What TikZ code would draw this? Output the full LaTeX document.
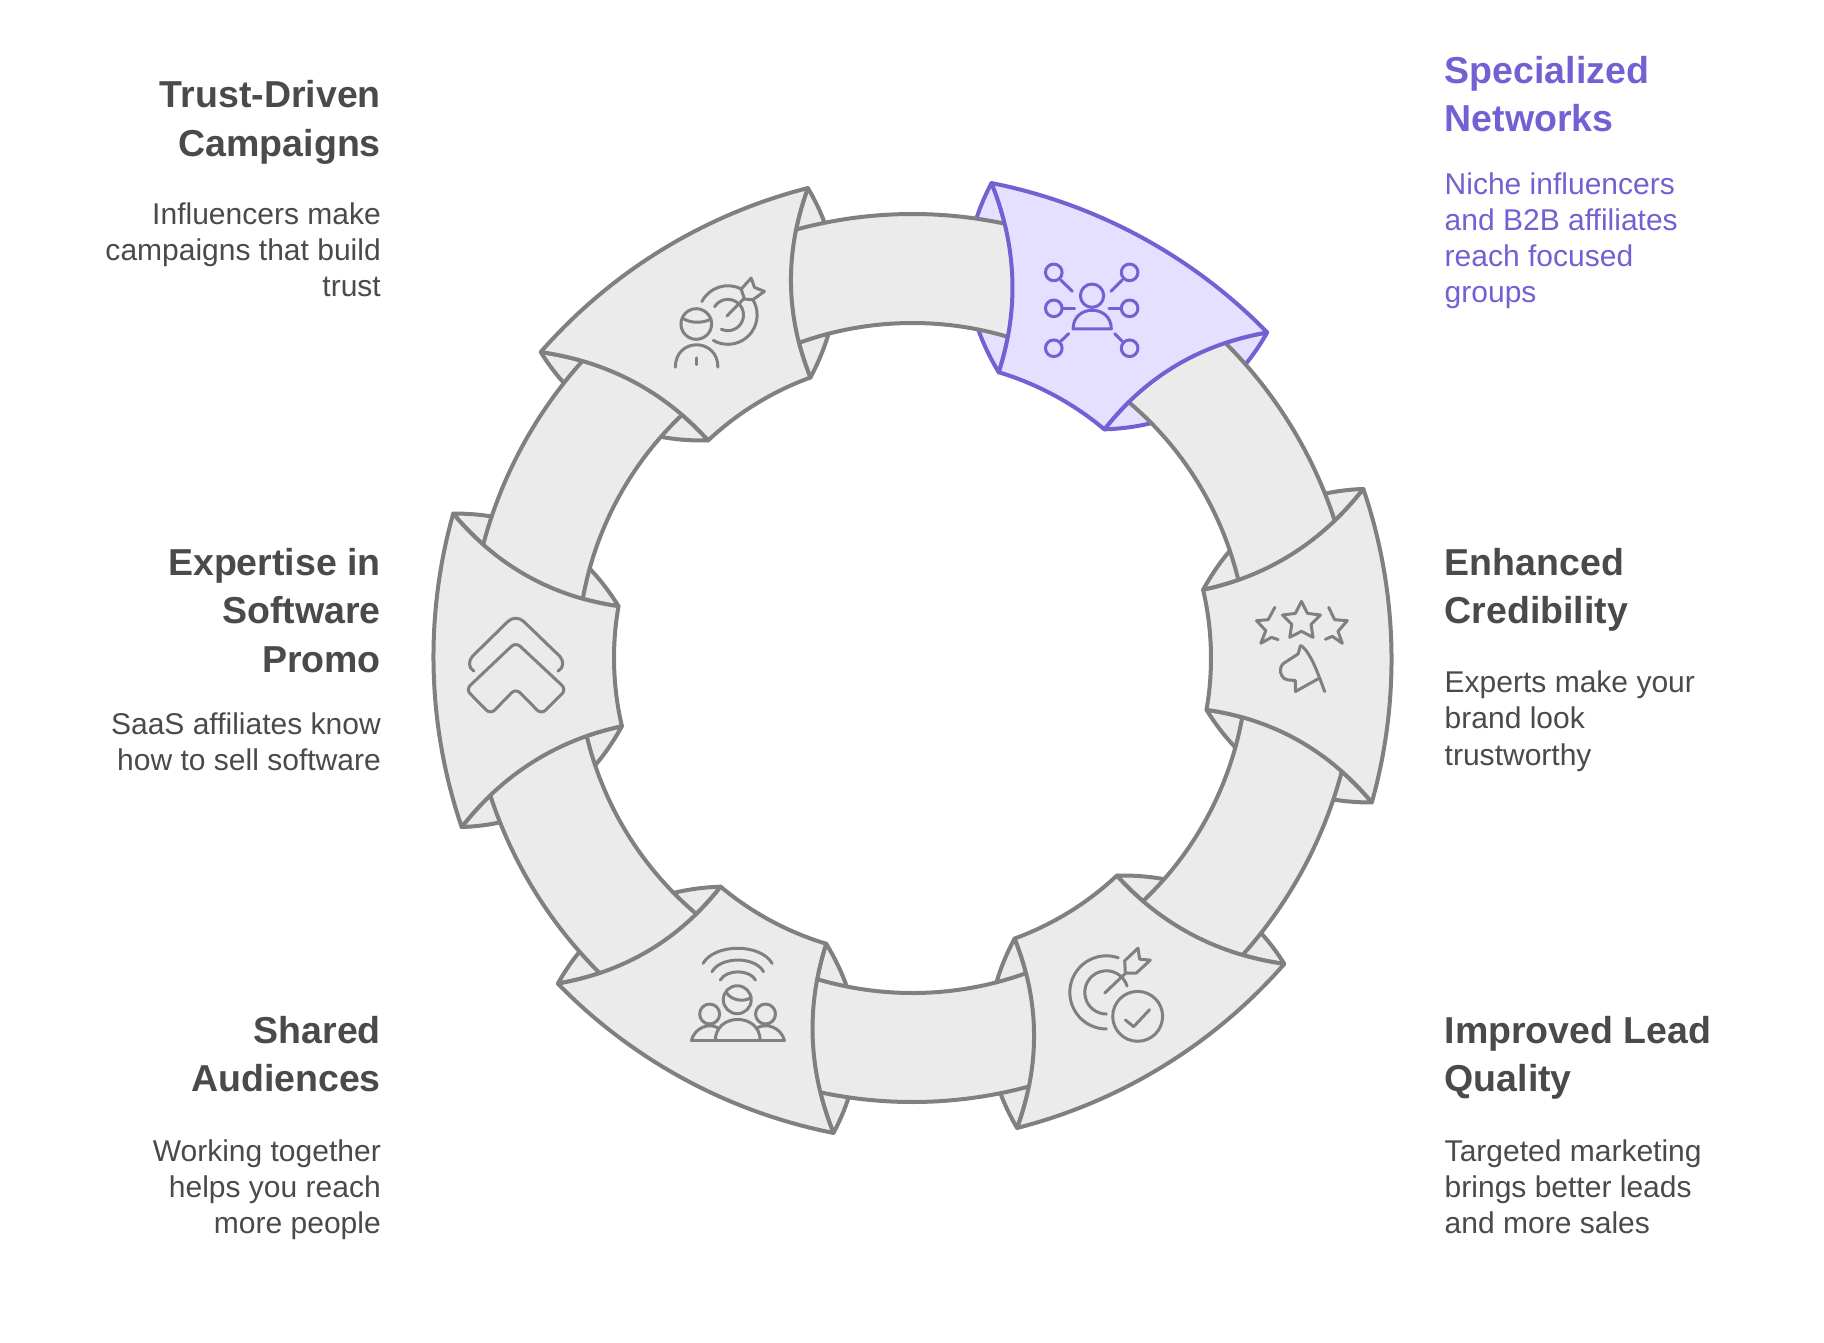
\documentclass[tikz,border=0pt]{standalone}
\usepackage{fontspec}
\setmainfont{Liberation Sans}

\definecolor{secfill}{HTML}{EBEBEB}
\definecolor{secline}{HTML}{808080}
\definecolor{specfill}{HTML}{E5E0FF}
\definecolor{specline}{HTML}{7261D3}
\definecolor{darktext}{HTML}{4A4A4A}

\tikzset{
    titlefont/.style={font=\fontsize{10.67}{13.75}\selectfont\bfseries\strut, inner sep=0pt},
    bodyfont/.style={font=\fontsize{8.54}{10.33}\selectfont\strut, inner sep=0pt},
    leftside/.style={anchor=north east, align=right, darktext},
    rightside/.style={anchor=north west, align=left, darktext},
    iconscale/.style={x=0.003333cm, y=-0.003333cm, line width=0.03cm, line cap=round, line join=round}
}

\begin{document}
\begin{tikzpicture}
    \useasboundingbox (0,0) rectangle (18.24,-13.42);

    % ================= RING =================
    \begin{scope}[shift={(9.125,-6.58)}, line width=0.04cm, line join=round]
        % 1. Back flaps of every section
        \foreach \ang/\fc/\lc in {0/specfill/specline, -60/secfill/secline, -120/secfill/secline, 180/secfill/secline, 120/secfill/secline, 60/secfill/secline} {
            \begin{scope}[rotate=\ang]
                \coordinate (outa) at (80.55:4.815);
                \coordinate (outb) at (42.55:4.815);
                \coordinate (ina)  at (73.2:2.985);
                \coordinate (inb)  at (50:2.985);
                \draw[fill=\fc, draw=\lc] (outa) .. controls (83.7:4.145) and (82.2:3.523) .. (ina)
                    .. controls (73:3.65) and (75.8:4.25) .. (outa) -- cycle;
                \draw[fill=\fc, draw=\lc] (outb) .. controls (39.5:4.145) and (41:3.523) .. (inb)
                    .. controls (50.35:3.659) and (47.5:4.256) .. (outb) -- cycle;
            \end{scope}
        }

        % 2. Strips between two sections
        \foreach \ang in {0,60,120,180,240,300} {
            \draw[rotate=\ang, fill=secfill, draw=secline] (70:4.44) arc[start angle=70, end angle=113, radius=4.44]
                -- (113:3.35) arc[start angle=113, end angle=70, radius=3.35] -- cycle;
        }

        % 3. Sections on top
        \foreach \ang/\fc/\lc in {0/specfill/specline, -60/secfill/secline, -120/secfill/secline, 180/secfill/secline, 120/secfill/secline, 60/secfill/secline} {
            \begin{scope}[rotate=\ang]
                \coordinate (outa) at (80.55:4.815);
                \coordinate (outb) at (42.55:4.815);
                \coordinate (ina)  at (73.2:2.985);
                \coordinate (inb)  at (50:2.985);
                \draw[fill=\fc, draw=\lc] (outa) .. controls (67.95:4.90) and (55.15:4.90) .. (outb)
                    .. controls (47.5:4.256) and (50.35:3.659) .. (inb)
                    arc[start angle=50, end angle=73.2, radius=2.985]
                    .. controls (73:3.65) and (75.8:4.25) .. (outa) -- cycle;
            \end{scope}
        }
    \end{scope}

    % ================= ICONS =================
    % Specialized Networks
    \begin{scope}[shift={(9.5cm,-1.51cm)}, iconscale, color=specline]
        \draw (427,435) circle (35);
        \draw (370,535) .. controls (370,460) and (485,460) .. (485,535) -- cycle;
        \foreach \px/\py in {312/365, 540/365, 312/473, 540/473, 312/593, 540/593}
            \draw (\px,\py) circle (25);
        \draw (333,388) -- (368,422);
        \draw (518,388) -- (484,422);
        \draw (338,473) -- (375,473);
        \draw (478,473) -- (515,473);
        \draw (333,572) -- (357,549);
        \draw (518,572) -- (495,549);
    \end{scope}

    % Trust-Driven Campaigns
    \begin{scope}[shift={(5.2cm,-1.71cm)}, iconscale, color=secline]
        \draw (530,460) circle (46);
        \draw (493,445) .. controls (515,458) and (550,458) .. (575,445);
        \draw (467,590) .. controls (467,500) and (595,500) .. (595,590);
        \draw (530,562) -- (530,582);
        \draw (625,433) ++(207.5:88) arc[start angle=207.5, end angle=297, radius=88];
        \draw (625,433) ++(329:88) arc[start angle=329, end angle=480, radius=88];
        \draw (625,433) ++(212:47) arc[start angle=212, end angle=475, radius=47];
        \draw (622,436) -- (672,385);
        \draw (665,355) -- (695,322) -- (705,350) -- (735,362) -- (700,387) -- (675,385) -- cycle;
    \end{scope}

    % Enhanced Credibility
    \begin{scope}[shift={(11.8cm,-4.71cm)}, iconscale, color=secline]
        \draw (365,392) -- (383,428) -- (422,433) -- (394,461) -- (400,500) -- (365,482)
            -- (330,500) -- (336,461) -- (308,433) -- (347,428) -- cycle;
        \draw (285,410) -- (265,447) -- (230,450) -- (258,480) -- (243,518) -- (275,500) -- (295,507);
        \draw (447,410) -- (465,447) -- (503,450) -- (475,482) -- (488,518) -- (458,497) -- (437,506);
        \draw (365,525) .. controls (395,550) and (415,610) .. (435,663);
        \draw (362,525) -- (355,550) -- (312,578) .. controls (295,590) and (300,625) .. (325,628)
            -- (347,630) -- (347,663) -- (415,625);
    \end{scope}

    % Improved Lead Quality
    \begin{scope}[shift={(9.8cm,-8.61cm)}, iconscale, color=secline]
        \draw (380,395) ++(289:110) arc[start angle=289, end angle=90, radius=110];
        \draw (380,395) ++(343:65) arc[start angle=343, end angle=90, radius=65];
        \draw (375,397) -- (440,335);
        \draw (435,300) -- (475,262) -- (480,295) -- (512,298) -- (470,337) -- (437,337) -- cycle;
        \draw (474,467) circle (75);
        \draw (437,478) -- (462,498) -- (510,447);
    \end{scope}

    % Shared Audiences
    \begin{scope}[shift={(5.5cm,-8.71cm)}, iconscale, color=secline]
        \draw (460,278) .. controls (495,217) and (633,217) .. (668,278);
        \draw (487,303) .. controls (513,256) and (617,256) .. (642,303);
        \draw (512,328) .. controls (530,295) and (600,295) .. (618,328);
        \draw (563,387) circle (42);
        \draw (530,365) .. controls (545,390) and (585,395) .. (605,380);
        \draw (480,430) circle (30);
        \draw (648,430) circle (30);
        \draw (425,510) -- (705,510);
        \draw (497,510) .. controls (497,425) and (632,425) .. (632,510);
        \draw (425,510) .. controls (435,470) and (480,455) .. (505,472);
        \draw (705,510) .. controls (695,470) and (650,455) .. (622,472);
    \end{scope}

    % Expertise in Software Promo
    \begin{scope}[shift={(4.2cm,-5.015cm)}, iconscale, color=secline]
        \draw (162,510) .. controls (145,500) and (145,480) .. (158,465) -- (265,360)
            .. controls (278,348) and (298,348) .. (311,360) -- (420,465)
            .. controls (433,480) and (433,500) .. (415,510);
        \draw[rounded corners=0.06cm] (288,423) -- (440,565) -- (365,640) -- (288,562)
            -- (212,640) -- (138,565) -- cycle;
    \end{scope}

    % ================= LABELS =================
    \node[titlefont, leftside] (trust_t) at (3.815,-0.80) {Trust-Driven\\Campaigns};
    \node[bodyfont, leftside] (trust_b) at (3.815,-2.016) {Influencers make\\campaigns that build\\trust};

    \node[titlefont, leftside] (expert_t) at (3.815,-5.475) {Expertise in\\Software\\Promo};
    \node[bodyfont, leftside] (expert_b) at (3.815,-7.116) {SaaS affiliates know\\how to sell software};

    \node[titlefont, leftside] (shared_t) at (3.815,-10.155) {Shared\\Audiences};
    \node[bodyfont, leftside] (shared_b) at (3.815,-11.386) {Working together\\helps you reach\\more people};

    \node[titlefont, rightside, specline] (spec_t) at (14.44,-0.555) {Specialized\\Networks};
    \node[bodyfont, rightside, specline] (spec_b) at (14.44,-1.716) {Niche influencers\\and B2B affiliates\\reach focused\\groups};

    \node[titlefont, rightside] (cred_t) at (14.44,-5.475) {Enhanced\\Credibility};
    \node[bodyfont, rightside] (cred_b) at (14.44,-6.70) {Experts make your\\brand look\\trustworthy};

    \node[titlefont, rightside] (lead_t) at (14.44,-10.155) {Improved Lead\\Quality};
    \node[bodyfont, rightside] (lead_b) at (14.44,-11.386) {Targeted marketing\\brings better leads\\and more sales};

\end{tikzpicture}
\end{document}
